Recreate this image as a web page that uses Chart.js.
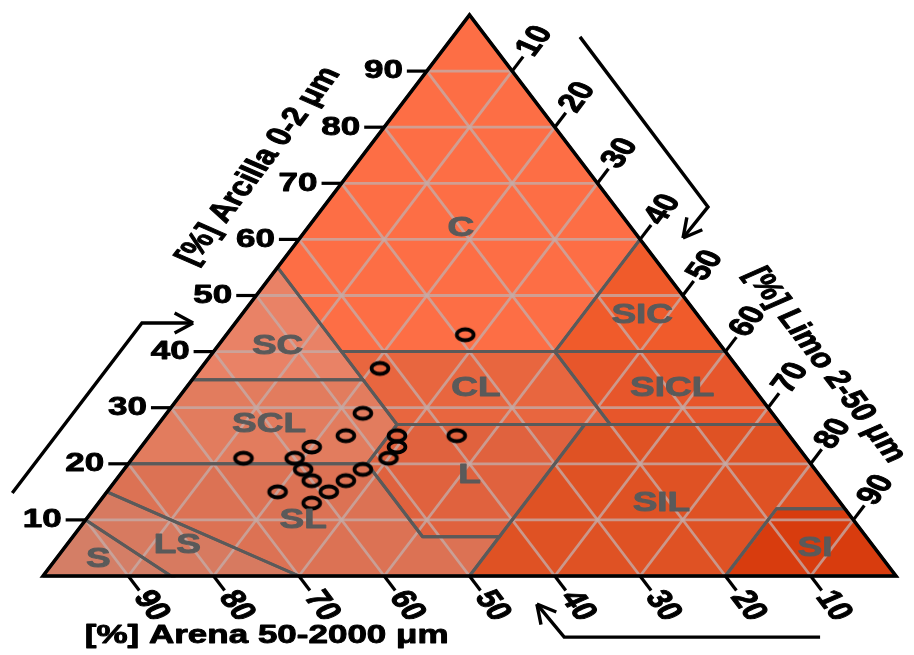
<!DOCTYPE html>
<html lang="es">
<head>
<meta charset="UTF-8">
<title>Triángulo textural</title>
<script src="https://cdn.jsdelivr.net/npm/chart.js"></script>
<style>
  body { margin: 0; background: #fff; }
  canvas { display: block; }
</style>
</head>
<body>
<canvas id="textura" width="914" height="655"></canvas>
<script>
// muestras (%): arena, limo, arcilla
const sampleSand = [29, 42, 48, 52, 46, 47, 49, 39, 57, 60, 60, 60, 59, 62, 53, 56, 66, 65];
const sampleSilt = [28, 21, 23, 23, 29, 30, 30, 36, 20, 19, 21, 23, 26, 25, 28, 27, 13, 20];
const sampleClay = [43, 37, 29, 25, 25, 23, 21, 25, 23, 21, 19, 17, 15, 13, 19, 17, 21, 15];

const tickValues = [10, 20, 30, 40, 50, 60, 70, 80, 90];

// clases USDA, vertices como [arena, limo, arcilla]
const classNames = ['S', 'LS', 'SL', 'L', 'SIL', 'SI', 'SCL', 'CL', 'SICL', 'SC', 'SIC', 'C'];
const classPolygons = [
  [[100, 0, 0], [85, 15, 0], [90, 0, 10]],
  [[85, 15, 0], [70, 30, 0], [85, 0, 15], [90, 0, 10]],
  [[70, 30, 0], [50, 50, 0], [43, 50, 7], [52, 41, 7], [52, 28, 20], [80, 0, 20], [85, 0, 15]],
  [[52, 41, 7], [43, 50, 7], [23, 50, 27], [45, 28, 27], [52, 28, 20]],
  [[50, 50, 0], [20, 80, 0], [8, 80, 12], [0, 88, 12], [0, 73, 27], [23, 50, 27], [43, 50, 7]],
  [[20, 80, 0], [0, 100, 0], [0, 88, 12], [8, 80, 12]],
  [[80, 0, 20], [52, 28, 20], [45, 28, 27], [45, 20, 35], [65, 0, 35]],
  [[45, 28, 27], [20, 53, 27], [20, 40, 40], [45, 15, 40], [45, 20, 35]],
  [[20, 53, 27], [0, 73, 27], [0, 60, 40], [20, 40, 40]],
  [[65, 0, 35], [45, 20, 35], [45, 15, 40], [45, 0, 55]],
  [[20, 40, 40], [0, 60, 40], [0, 40, 60]],
  [[45, 0, 55], [45, 15, 40], [20, 40, 40], [0, 40, 60], [0, 0, 100]]
];
const classColors = ['#d47e66', '#d77a60', '#dc7254', '#e0623e', '#df5224', '#d83c0e',
                     '#e27c5e', '#e8663f', '#e7562b', '#e98266', '#f05b2b', '#fd6e45'];
const classLabelAt = [[92, 5, 3], [81.5, 13, 5.5], [64.5, 25.5, 10], [41, 41, 18], [21, 66, 13], [7, 88, 5],
                      [60, 13, 27], [32.5, 34, 33.5], [9.5, 57, 33.5], [52, 7, 41], [6.5, 47, 46.5], [20, 18, 62]];

// arena/limo/arcilla -> coordenadas del plano
function tern(sand, silt, clay) {
  return { x: silt + clay / 2, y: clay };
}

const FONT = '"Liberation Sans", Arial, sans-serif';

function ring() {
  const c = document.createElement('canvas');
  c.width = 26; c.height = 20;
  const g = c.getContext('2d');
  g.lineWidth = 3.8;
  g.strokeStyle = '#000';
  g.beginPath();
  g.ellipse(13, 10, 8.4, 5.5, 0, 0, Math.PI * 2);
  g.stroke();
  return c;
}

const datasets = [];

// muestras
datasets.push({
  data: sampleSand.map((s, i) => tern(s, sampleSilt[i], sampleClay[i])),
  pointStyle: ring(),
  pointRadius: 9,
  showLine: false,
  clip: false,
  order: 0
});

// contorno del triangulo
datasets.push({
  data: [tern(100, 0, 0), tern(0, 100, 0), tern(0, 0, 100), tern(100, 0, 0), tern(0, 100, 0)],
  showLine: true, borderColor: '#000', borderWidth: 3.5, borderJoinStyle: 'miter',
  pointRadius: 0, fill: false, clip: false, order: 1
});

// limites de clases
classPolygons.forEach(poly => {
  datasets.push({
    data: poly.concat([poly[0]]).map(p => tern(p[0], p[1], p[2])),
    showLine: true, borderColor: '#5a5a5a', borderWidth: 3,
    pointRadius: 0, fill: false, clip: false, order: 2
  });
});

// rejilla cada 10 %
const gridColor = 'rgba(196, 172, 168, 0.78)';
tickValues.forEach(v => {
  const lines = [
    [tern(100 - v, 0, v), tern(0, 100 - v, v)],       // arcilla
    [tern(v, 100 - v, 0), tern(v, 0, 100 - v)],       // arena
    [tern(100 - v, v, 0), tern(0, v, 100 - v)]        // limo
  ];
  lines.forEach(l => datasets.push({
    data: l, showLine: true, borderColor: gridColor, borderWidth: 2.8,
    pointRadius: 0, fill: false, clip: false, order: 3
  }));
});

// rellenos de clases
classPolygons.forEach((poly, i) => {
  datasets.push({
    data: poly.concat([poly[0]]).map(p => tern(p[0], p[1], p[2])),
    showLine: true, borderWidth: 0, borderColor: classColors[i],
    backgroundColor: classColors[i], fill: 'shape',
    pointRadius: 0, clip: false, order: 4
  });
});

function drawText(ctx, text, x, y, deg, align, font, color, squash) {
  ctx.save();
  ctx.translate(x, y);
  ctx.scale(1, squash);
  ctx.rotate(deg * Math.PI / 180);
  ctx.font = font;
  ctx.fillStyle = color;
  ctx.strokeStyle = color;
  ctx.lineWidth = 1.2;
  ctx.lineJoin = 'round';
  ctx.textAlign = align;
  ctx.textBaseline = 'middle';
  ctx.fillText(text, 0, 0);
  ctx.strokeText(text, 0, 0);
  ctx.restore();
}

const ternaryDecor = {
  id: 'ternaryDecor',
  afterDatasetsDraw(chart) {
    const ctx = chart.ctx;
    const xs = chart.scales.x, ys = chart.scales.y;
    const area = chart.chartArea;
    const squash = (area.bottom - area.top) / ((area.right - area.left) * Math.sqrt(3) / 2);
    const pix = (x, y) => [xs.getPixelForValue(x), ys.getPixelForValue(y)];
    const tpix = (s, si, c) => { const t = tern(s, si, c); return pix(t.x, t.y); };
    const numFont = 'bold 35px ' + FONT;

    ctx.save();
    ctx.strokeStyle = '#000';
    ctx.lineWidth = 3.2;

    function tick(p, deg, len, text, rot, align) {
      const a = deg * Math.PI / 180;
      const e = [p[0] + len * Math.cos(a), p[1] + len * Math.sin(a) * squash];
      ctx.strokeStyle = '#000';
      ctx.lineWidth = 3.2;
      ctx.beginPath();
      ctx.moveTo(p[0], p[1]);
      ctx.lineTo(e[0], e[1]);
      ctx.stroke();
      const g = len + 4;
      drawText(ctx, text, p[0] + g * Math.cos(a), p[1] + g * Math.sin(a) * squash, rot, align, numFont, '#000', squash);
    }

    tickValues.forEach(v => {
      tick(tpix(100 - v, 0, v), 180, 20, String(v), 0, 'right');     // arcilla
      tick(tpix(0, v, 100 - v), -60, 22, String(v), -60, 'left');    // limo
      tick(tpix(v, 100 - v, 0), 60, 22, String(v), 60, 'left');      // arena
    });

    // nombres de clases
    classNames.forEach((n, i) => {
      const p = tpix(...classLabelAt[i]);
      drawText(ctx, n, p[0], p[1], 0, 'center', 'bold 37px ' + FONT, '#5a5a5a', squash);
    });

    // titulos de ejes
    let p = pix(25.3, 73.1);
    drawText(ctx, '[%] Arcilla 0-2 μm', p[0], p[1], -60, 'center', 'bold 35px ' + FONT, '#000', squash);
    p = pix(91.7, 37.6);
    drawText(ctx, '[%] Limo 2-50 μm', p[0], p[1], 60, 'center', 'bold 35px ' + FONT, '#000', squash);
    p = pix(4.9, -10.6);
    drawText(ctx, '[%] Arena 50-2000 μm', p[0], p[1], 0, 'left', 'bold 35px ' + FONT, '#000', squash);

    // flechas de lectura
    const arrows = [
      [[-3.6, 14.8], [11.6, 45.1], [17.6, 45.1]],
      [[62.95, 96.1], [77.96, 65.8], [75.03, 60.25]],
      [[91.1, -10.9], [61.1, -10.9], [57.9, -5.0]]
    ];
    ctx.strokeStyle = '#000';
    ctx.lineWidth = 3.4;
    arrows.forEach(path => {
      const pts = path.map(q => pix(q[0], q[1]));
      ctx.beginPath();
      ctx.moveTo(pts[0][0], pts[0][1]);
      pts.slice(1).forEach(q => ctx.lineTo(q[0], q[1]));
      ctx.stroke();
      const a = pts[pts.length - 1], b = pts[pts.length - 2];
      const ang = Math.atan2(a[1] - b[1], a[0] - b[0]);
      ctx.beginPath();
      [ang + 2.65, ang - 2.65].forEach(w => {
        ctx.moveTo(a[0], a[1]);
        ctx.lineTo(a[0] + 21 * Math.cos(w), a[1] + 21 * Math.sin(w));
      });
      ctx.stroke();
    });
    ctx.restore();
  }
};

new Chart(document.getElementById('textura'), {
  type: 'scatter',
  data: { datasets: datasets },
  options: {
    responsive: false,
    animation: false,
    events: [],
    devicePixelRatio: 1,
    layout: { padding: { left: 43, right: 18, top: 15, bottom: 79 } },
    elements: { line: { tension: 0 } },
    scales: {
      x: { type: 'linear', min: 0, max: 100, display: false },
      y: { type: 'linear', min: 0, max: 100, display: false }
    },
    plugins: {
      legend: { display: false },
      tooltip: { enabled: false }
    }
  },
  plugins: [ternaryDecor]
});
</script>
</body>
</html>
